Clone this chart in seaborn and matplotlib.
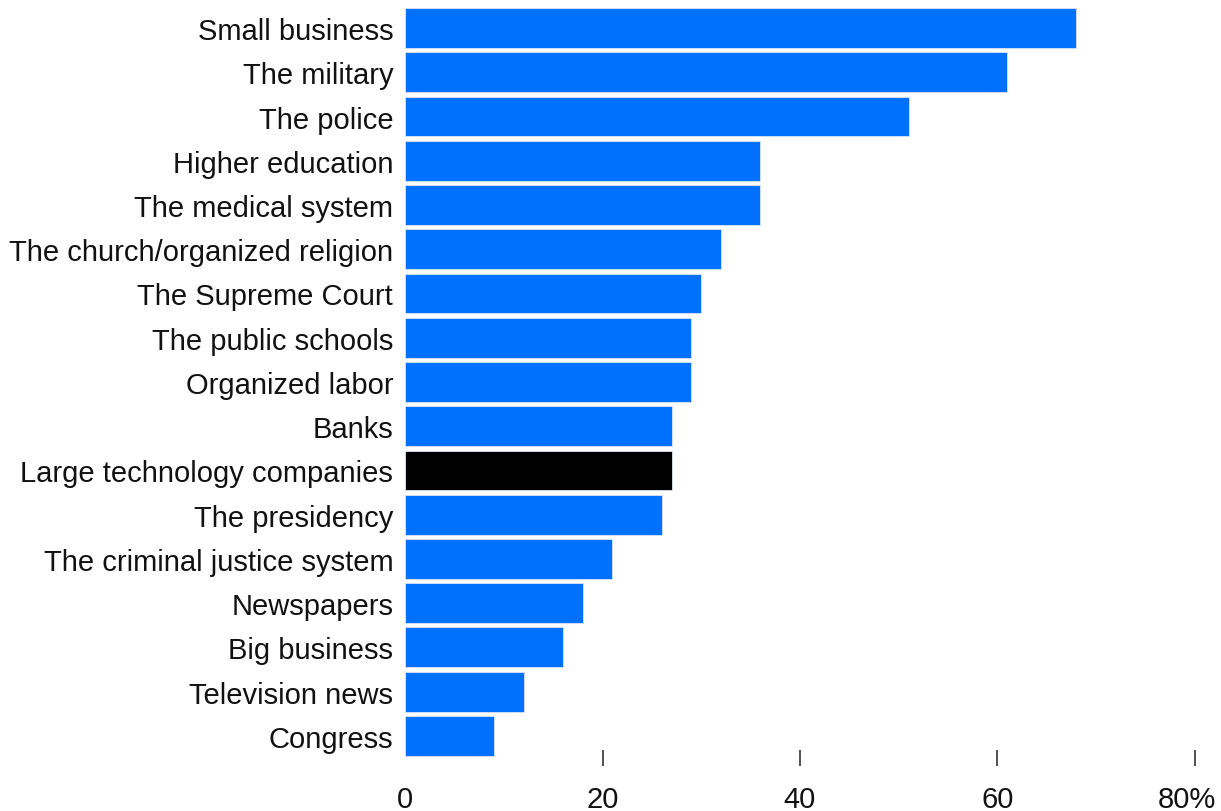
"""
Confidence in institutions - horizontal bar chart
"""

import pandas as pd
import matplotlib
matplotlib.use("Agg")
import matplotlib.pyplot as plt
import matplotlib.transforms as mtransforms
import seaborn as sns

# Chart data
institutions = [
    "Small business",
    "The military",
    "The police",
    "Higher education",
    "The medical system",
    "The church/organized religion",
    "The Supreme Court",
    "The public schools",
    "Organized labor",
    "Banks",
    "Large technology companies",
    "The presidency",
    "The criminal justice system",
    "Newspapers",
    "Big business",
    "Television news",
    "Congress",
]
confidence = [68, 61, 51, 36, 36, 32, 30, 29, 29, 27, 27, 26, 21, 18, 16, 12, 9]
highlight = "Large technology companies"

x_ticks = [0, 20, 40, 60, 80]
x_tick_labels = ["0", "20", "40", "60", "80%"]

BLUE = "#0070FF"
BLACK = "#000000"


def main():
    df = pd.DataFrame({"institution": institutions, "pct": confidence})
    palette = {name: (BLACK if name == highlight else BLUE) for name in institutions}

    sns.set_style("white")
    plt.rcParams["font.family"] = ["Liberation Sans", "DejaVu Sans"]

    fig = plt.figure(figsize=(12.21, 8.12), dpi=100)
    ax = fig.add_axes([0.3317, 0.0653, 0.647, 0.9262])

    sns.barplot(
        data=df, x="pct", y="institution", hue="institution",
        palette=palette, legend=False, width=0.9, orient="h",
        saturation=1, edgecolor="#d8e6f5", linewidth=0.6, ax=ax,
    )

    ax.set_xlim(0, 80)
    ax.set_ylim(len(institutions) - 0.5, -0.5)
    ax.set_xlabel("")
    ax.set_ylabel("")

    ax.set_xticks(x_ticks)
    ax.set_xticklabels(x_tick_labels)
    ax.tick_params(axis="x", bottom=True, direction="inout", length=11.5, width=1.1,
                   color="#222222", labelsize=21, labelcolor="#111111", pad=14)
    ax.tick_params(axis="y", left=False, length=0, labelsize=21,
                   labelcolor="#111111", pad=8.5)
    # no tick mark at zero
    ax.xaxis.get_major_ticks()[0].tick1line.set_visible(False)
    # nudge the last label so the percent sign stays inside the figure
    last = ax.get_xticklabels()[-1]
    last.set_transform(last.get_transform() + mtransforms.ScaledTranslation(-8 / 100, 0, fig.dpi_scale_trans))

    sns.despine(ax=ax, left=True, bottom=True)

    fig.savefig("out.png", dpi=100)
    plt.close(fig)


if __name__ == "__main__":
    main()
